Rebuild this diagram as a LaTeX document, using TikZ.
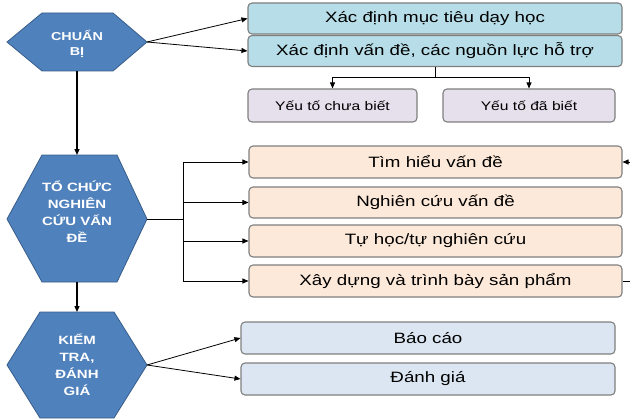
\documentclass[tikz,border=0pt]{standalone}
\usepackage{fontspec}
\setmainfont[FakeStretch=1.25]{Liberation Sans}
\usetikzlibrary{arrows.meta}
\definecolor{hexfill}{HTML}{4F81BD}
\definecolor{hexline}{HTML}{385D8A}
\definecolor{bluebox}{HTML}{B7DEE8}
\definecolor{purplebox}{HTML}{E5E0EC}
\definecolor{orangebox}{HTML}{FDE9D9}
\definecolor{greybox}{HTML}{DCE6F2}
\definecolor{boxline}{HTML}{7F7F7F}
\tikzset{
  hexshape/.style={fill=hexfill, draw=hexline, line width=0.8pt},
  hextext/.style={text=white, font=\fontsize{12}{17}\selectfont\bfseries, align=center, inner sep=0pt},
  box/.style={rounded corners=4pt, draw=boxline, line width=1.1pt, minimum height=31pt, inner sep=0pt, font=\fontsize{15}{17}\selectfont},
  smallbox/.style={box, minimum height=33pt, font=\fontsize{12.5}{14}\selectfont},
  conn/.style={line width=0.8pt, draw=black},
  arr/.style={conn, -{Triangle[length=6pt,width=5pt]}},
}
\begin{document}
\begin{tikzpicture}[x=1pt,y=-1pt]
\useasboundingbox (0,0) rectangle (630,420);
% hexagons
\draw[hexshape] (7,42) -- (42,13) -- (113,13) -- (147,42) -- (113,71) -- (42,71) -- cycle;
\node[hextext, font=\fontsize{11.5}{15}\selectfont\bfseries] (h1) at (77,44) {CHUẨN\\BỊ};
\coordinate (h1r) at (147,42);
\coordinate (h1b) at (77,71);
\draw[hexshape] (7,219) -- (42,155) -- (117,155) -- (147,219) -- (117,282) -- (42,282) -- cycle;
\node[hextext] (h2) at (77,212) {TỔ CHỨC\\NGHIÊN\\CỨU VẤN\\ĐỀ};
\coordinate (h2t) at (77,155);
\coordinate (h2r) at (147,219);
\coordinate (h2b) at (77,282);
\draw[hexshape] (7,365) -- (40,312) -- (114,312) -- (147,365) -- (114,418) -- (40,418) -- cycle;
\node[hextext] (h3) at (77,365) {KIỂM\\TRA,\\ĐÁNH\\GIÁ};
\coordinate (h3t) at (77,312);
\coordinate (h3r) at (147,365);
% boxes
\node[box, fill=bluebox, minimum width=374pt] (b1) at (435,18.5) {Xác định mục tiêu dạy học};
\node[box, fill=bluebox, minimum width=374pt] (b2) at (435,51) {Xác định vấn đề, các nguồn lực hỗ trợ};
\node[smallbox, fill=purplebox, minimum width=169pt] (p1) at (332.5,105.5) {Yếu tố chưa biết};
\node[smallbox, fill=purplebox, minimum width=172pt] (p2) at (529,105.5) {Yếu tố đã biết};
\node[box, fill=orangebox, minimum width=373pt, minimum height=32pt] (o1) at (435.5,162) {Tìm hiểu vấn đề};
\node[box, fill=orangebox, minimum width=373pt, minimum height=31pt] (o2) at (435.5,202.5) {Nghiên cứu vấn đề};
\node[box, fill=orangebox, minimum width=373pt, minimum height=32pt] (o3) at (435.5,241) {Tự học/tự nghiên cứu};
\node[box, fill=orangebox, minimum width=373pt, minimum height=32pt] (o4) at (435.5,281) {Xây dựng và trình bày sản phẩm};
\node[box, fill=greybox, minimum width=374pt, minimum height=32pt] (r1) at (428,338) {Báo cáo};
\node[box, fill=greybox, minimum width=374pt, minimum height=32pt] (r2) at (428,379) {Đánh giá};
% connectors
\draw[arr] (h1r) -- (b1.west);
\draw[arr] (h1r) -- (b2.west);
\coordinate (j1) at (435,77);
\draw[conn] (b2.south) -- (j1);
\draw[arr] (j1) -| (p1.north);
\draw[arr] (j1) -| (p2.north);
\draw[arr, line width=1.3pt] (h1b) -- (h2t);
\coordinate (j2) at (183,219);
\draw[conn] (h2r) -- (j2);
\draw[arr] (j2) |- (o1.west);
\draw[arr] (j2) |- (o2.west);
\draw[arr] (j2) |- (o3.west);
\draw[arr] (j2) |- (o4.west);
\coordinate (loop) at (640,281);
\draw[arr] (o4.east) -- (loop) |- (o1.east);
\draw[arr, line width=1.3pt] (h2b) -- (h3t);
\draw[arr] (h3r) -- (r1.west);
\draw[arr] (h3r) -- (r2.west);
\end{tikzpicture}
\end{document}
